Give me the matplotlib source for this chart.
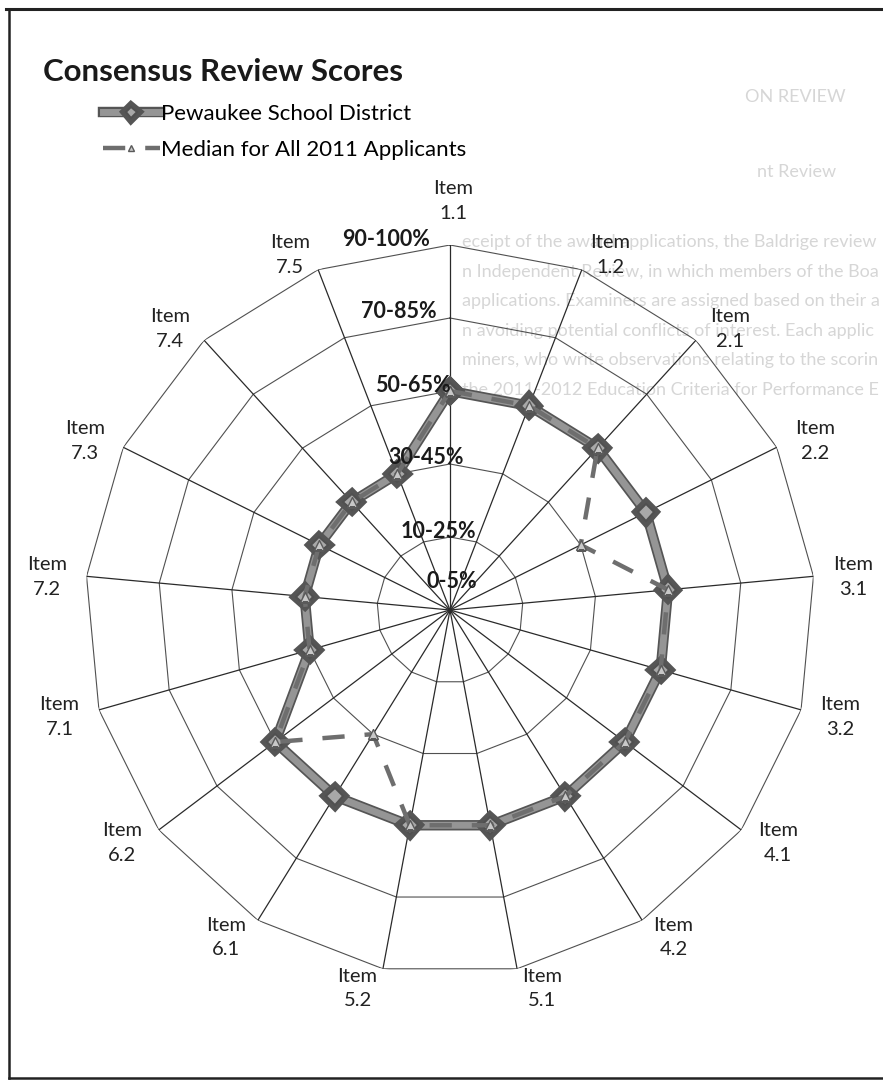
import numpy as np
import matplotlib
matplotlib.use('Agg')
import matplotlib.pyplot as plt
import matplotlib.patheffects as pe
from matplotlib.lines import Line2D

# chart values (score band index 0..5 for each item)
items = ['1.1', '1.2', '2.1', '2.2', '3.1', '3.2', '4.1', '4.2', '5.1',
         '5.2', '6.1', '6.2', '7.1', '7.2', '7.3', '7.4', '7.5']
pewaukee = [3, 3, 3, 3, 3, 3, 3, 3, 3, 3, 3, 3, 2, 2, 2, 2, 2]
median = [3, 3, 3, 2, 3, 3, 3, 3, 3, 3, 2, 3, 2, 2, 2, 2, 2]
levels = ['0-5%', '10-25%', '30-45%', '50-65%', '70-85%', '90-100%']
series_names = ['Pewaukee School District', 'Median for All 2011 Applicants']

# faint text showing through from the page underneath
ghost_head = ['ON REVIEW', 'nt Review']
ghost_lines = [
    'eceipt of the award applications, the Baldrige review cycle (shown in',
    'n Independent Review, in which members of the Board of Examiners are',
    'applications. Examiners are assigned based on their areas of expertise and',
    'n avoiding potential conflicts of interest. Each application is evaluated by',
    'miners, who write observations relating to the scoring system described',
    'the 2011-2012 Education Criteria for Performance Excellence.',
]

W, H = 883, 1082
plt.rcParams['font.family'] = ['Lato', 'DejaVu Sans']

fig = plt.figure(figsize=(W / 100, H / 100), dpi=100)
fig.patch.set_facecolor('white')
renderer = fig.canvas.get_renderer()


def fx(px):
    return px / W


def fy(py):
    return 1 - py / H


def ghost(x, y, s):
    t = fig.text(fx(x), fy(y), s, fontsize=13, color='#d6d6d6',
                 va='center', ha='left', zorder=-5)
    # the page edge cuts these lines, keep only what fits
    while s and t.get_window_extent(renderer).x1 > W - 3:
        s = s[:-1]
        t.set_text(s)
    return t


ghost(745, 97, ghost_head[0])
ghost(757, 172, ghost_head[1])
for i, line in enumerate(ghost_lines):
    ghost(462, 242 + 29.6 * i, line)

# radar axes: center (450, 610) px, outer radius 365 px
cx, cy, R = 450, 610, 365
ax = fig.add_axes([fx(cx - R), fy(cy + R), 2 * R / W, 2 * R / H],
                  projection='polar')
ax.set_theta_zero_location('N')
ax.set_theta_direction(-1)
ax.set_ylim(0, 5)
ax.axis('off')

n = len(items)
theta = np.arange(n) * 2 * np.pi / n
theta_c = np.append(theta, theta[0])

for k in range(1, len(levels)):
    ax.plot(theta_c, [k] * (n + 1), color='#505050', lw=0.8, zorder=1)
for t in theta:
    ax.plot([t, t], [0, 5], color='#2a2a2a', lw=0.9, zorder=1)

p_vals = np.append(pewaukee, pewaukee[0])
m_vals = np.append(median, median[0])

l1, = ax.plot(theta_c, p_vals, color='#959595', lw=5, marker='D', ms=8.5,
              mfc='#a8a8a8', mec='#505050', mew=1.4, zorder=3,
              path_effects=[pe.Stroke(linewidth=7.5, foreground='#555555'), pe.Normal()])
l2, = ax.plot(theta_c, m_vals, color='#6e6e6e', lw=3.2, ls=(0, (5, 4.5)),
              marker='^', ms=7, mfc='#c8c8c8', mec='#5a5a5a', mew=1.0, zorder=4)

# band labels along the first spoke
for k, lab in enumerate(levels):
    off_x = 2 - 13.2 * k
    off_y = 28 if k == 0 else 6
    ax.annotate(lab, xy=(0, k), xytext=(off_x * 0.72, off_y * 0.72),
                textcoords='offset points', ha='center', va='center',
                fontsize=15.5, fontweight='bold', color='#1a1a1a', zorder=6)

# item labels outside each vertex
for k, lab in enumerate(items):
    a = np.pi / 2 - theta[k]
    c, s = np.cos(a), np.sin(a)
    if abs(c) < 0.05:
        dx, dy = 3, 44
    else:
        dx = np.sign(c) * (22 + 18 * abs(c))
        dy = 18 * s - 2
    ax.annotate('Item\n' + lab, xy=(theta[k], 5), xytext=(dx * 0.72, dy * 0.72),
                textcoords='offset points', ha='center', va='center',
                fontsize=14.5, color='#222222', linespacing=1.55,
                annotation_clip=False)

# title and legend
fig.text(fx(43), fy(72), 'Consensus Review Scores', fontsize=22.5,
         fontweight='bold', color='#1a1a1a', va='center', ha='left')
fig.legend([l1, l2], series_names, loc='upper left',
           bbox_to_anchor=(fx(103), fy(104)), frameon=False, fontsize=16,
           handlelength=2.55, handletextpad=0.05, labelspacing=0.72,
           borderpad=0, borderaxespad=0, markerscale=0.65)

# page frame
fig.add_artist(Line2D([fx(6), 1], [fy(9), fy(9)], color='#222222', lw=2.2))
fig.add_artist(Line2D([fx(9), fx(9)], [fy(9), fy(1078)], color='#222222', lw=1.8))
fig.add_artist(Line2D([fx(9), 1], [fy(1078), fy(1078)], color='#222222', lw=1.8))

fig.savefig('out.png', dpi=100, facecolor='white')
